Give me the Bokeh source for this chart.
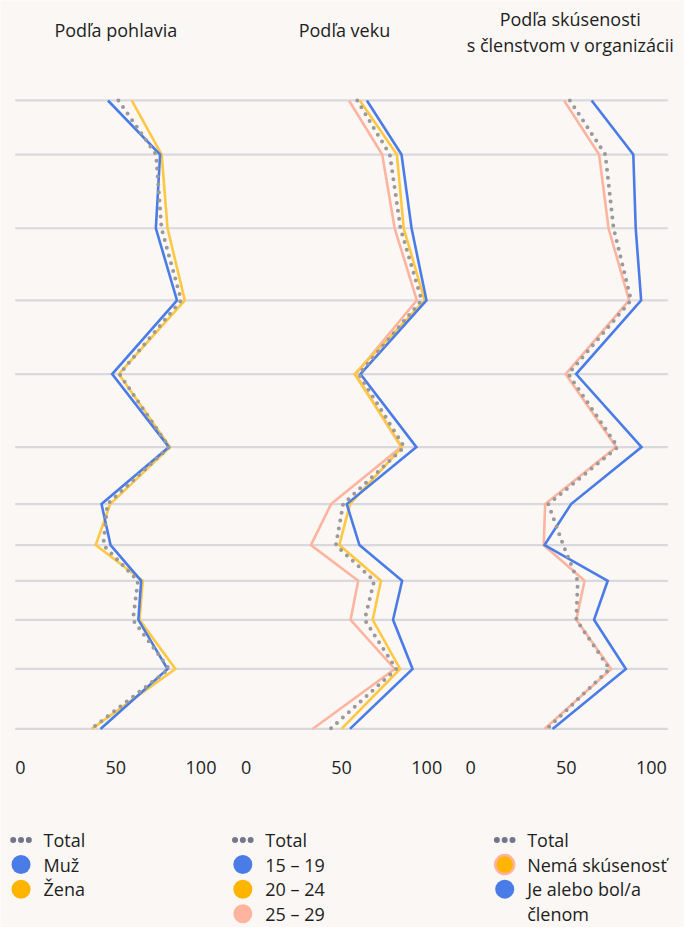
from bokeh.plotting import figure
from bokeh.models import Range1d
from bokeh.core.properties import value
from bokeh.embed import file_html
from bokeh.resources import INLINE

# ---------------- data (percent, 12 unlabeled items, top to bottom) ----------------
gender_total  = [51.3, 70.0, 72.7, 82.5, 51.8, 76.5, 45.8, 43.8, 61.0, 58.5, 76.5, 37.8]
gender_male   = [46.1, 72.0, 69.9, 80.4, 48.2, 76.4, 42.9, 47.4, 62.6, 61.2, 75.7, 42.4]
gender_female = [57.9, 72.8, 75.7, 84.3, 51.5, 76.9, 47.2, 40.0, 63.4, 61.8, 79.6, 38.0]

age_total = [57.8, 74.0, 79.3, 89.8, 58.6, 81.2, 50.8, 47.2, 66.2, 61.5, 77.2, 44.5]
age_15_19 = [62.6, 79.8, 84.8, 92.2, 59.4, 87.2, 52.6, 58.9, 80.1, 75.6, 85.3, 54.2]
age_20_24 = [59.1, 77.5, 80.9, 91.3, 56.5, 80.1, 54.2, 48.9, 69.6, 65.5, 79.1, 50.0]
age_25_29 = [53.7, 70.2, 76.4, 87.4, 57.0, 79.6, 44.8, 34.8, 58.3, 54.5, 76.4, 35.6]

mem_total  = [51.8, 69.4, 73.5, 82.2, 51.0, 75.6, 41.1, 48.5, 55.7, 55.0, 71.5, 40.4]
mem_none   = [48.9, 66.3, 71.0, 81.2, 49.7, 74.8, 39.5, 38.8, 59.1, 55.0, 72.3, 39.2]
mem_member = [62.6, 83.3, 84.5, 87.2, 54.9, 87.4, 52.4, 39.2, 70.6, 63.8, 79.6, 43.2]

panel_titles = [["Podľa pohlavia"], ["Podľa veku"],
                ["Podľa skúsenosti", "s členstvom v organizácii"]]
tick_values = [0, 50, 100]
tick_labels = ["0", "50", "100"]

legend_labels = [
    ["Total", "Muž", "Žena"],
    ["Total", "15 – 19", "20 – 24", "25 – 29"],
    ["Total", "Nemá skúsenosť", "Je alebo bol/a", "členom"],
]

# ---------------- style / layout ----------------
BG = "#FAF7F4"
BLUE = "#4A7CE8"
YELLOW = "#FFC844"
GOLD = "#FFB400"
PINK = "#FFB4A0"
TOTAL = "#9A9A9A"
GRID = "#D9D9DD"
TXT = "#1E1E1E"
FONT = "Open Sans"
FS = "18px"

W, H = 684, 927            # figure size in screen px
REF_W, REF_H = 700, 943    # layout coordinate space
ROW_Y = [101.7, 156.7, 231.7, 305, 380, 454.3, 512.3, 554, 590.3, 630, 680, 741]
PANEL_ZERO = [15, 246, 476]     # layout x of value 0 in each panel
PX_PER_UNIT = 2.06
GRID_X = (15, 683)

p = figure(width=W, height=H, x_range=Range1d(0, REF_W), y_range=Range1d(REF_H, 0),
           output_backend="svg", toolbar_location=None, min_border=0,
           background_fill_color=BG, border_fill_color=BG, outline_line_color=None)
p.axis.visible = False
p.grid.visible = False

for k, z in enumerate(PANEL_ZERO):
    p.extra_x_ranges[f"p{k}"] = Range1d((0 - z) / PX_PER_UNIT, (REF_W - z) / PX_PER_UNIT)

# grid lines for each item row
p.segment(x0=[GRID_X[0]] * len(ROW_Y), x1=[GRID_X[1]] * len(ROW_Y), y0=ROW_Y, y1=ROW_Y,
          line_color=GRID, line_width=2.2)

panels = [
    [(gender_female, YELLOW), (gender_male, BLUE)],
    [(age_25_29, PINK), (age_20_24, YELLOW), (age_15_19, BLUE)],
    [(mem_none, PINK), (mem_member, BLUE)],
]
totals = [gender_total, age_total, mem_total]

for k in range(3):
    rn = f"p{k}"
    for vals, col in panels[k]:
        p.line(x=vals, y=ROW_Y, x_range_name=rn, line_color=col, line_width=2.6,
               line_join="miter")
    p.line(x=totals[k], y=ROW_Y, x_range_name=rn, line_color=TOTAL, line_width=4,
           line_dash="0 8", line_cap="round")
    # tick labels
    for tv, tl, al in zip(tick_values, tick_labels, ["left", "center", "right"]):
        p.text(x=[tv], y=[780], text=[tl], x_range_name=rn, text_align=al,
               text_baseline="middle", text_font=value(FONT), text_font_size=FS,
               text_color=TXT)

# panel titles
TITLE_X = [118, 352, 583]
for k, lines in enumerate(panel_titles):
    ys = [30] if len(lines) == 1 else [19, 45]
    p.text(x=[TITLE_X[k]] * len(lines), y=ys, text=lines, text_align="center",
           text_baseline="middle", text_font=value(FONT), text_font_size=FS,
           text_color=TXT)

# legends
LEG_X = [12, 239, 507]
LEG_Y = [854, 879, 904, 929]
legend_marks = [
    [None, (BLUE, BLUE), (GOLD, GOLD)],
    [None, (BLUE, BLUE), (GOLD, GOLD), (PINK, PINK)],
    [None, (GOLD, PINK), (BLUE, BLUE), None],
]
for c in range(3):
    x0 = LEG_X[c]
    p.scatter(x=[x0 + 1, x0 + 9, x0 + 17], y=[LEG_Y[0]] * 3, size=6,
              fill_color="#74748A", line_color=None)
    labels = legend_labels[c]
    p.text(x=[x0 + 32] * len(labels), y=LEG_Y[:len(labels)], text=labels,
           text_align="left", text_baseline="middle", text_font=value(FONT),
           text_font_size=FS, text_color=TXT)
    for i, m in enumerate(legend_marks[c]):
        if m is None:
            continue
        fill, line = m
        p.scatter(x=[x0 + 9], y=[LEG_Y[i]], size=19, fill_color=fill,
                  line_color=line, line_width=2.5 if fill != line else 0)

open("out.html", "w").write(file_html(p, INLINE))
